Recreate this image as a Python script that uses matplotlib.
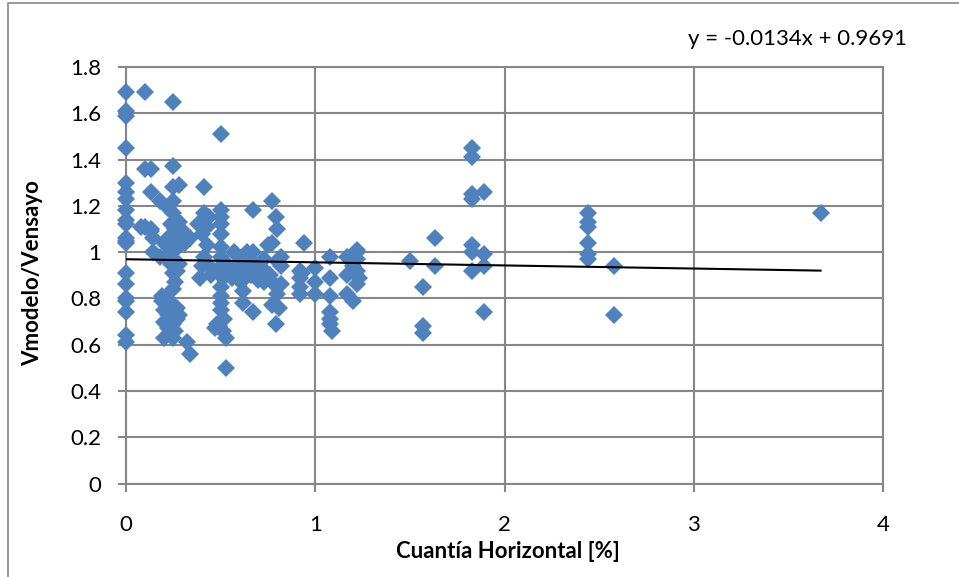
import matplotlib
matplotlib.use("Agg")
import matplotlib.pyplot as plt
from matplotlib.ticker import FuncFormatter, MultipleLocator
from matplotlib.patches import Rectangle

# puntos, agrupados por zona de cuantia
x_cero = [0.0] * 20
y_cero = [1.69, 1.61, 1.59, 1.45, 1.30, 1.26, 1.23, 1.18, 1.14, 1.12,
          1.06, 1.05, 1.04, 0.91, 0.86, 0.80, 0.79, 0.74, 0.64, 0.61]

x_bajo = [0.10, 0.10, 0.13, 0.13, 0.08, 0.13, 0.13, 0.14, 0.14, 0.10,
          0.18, 0.18, 0.19, 0.19, 0.20, 0.20, 0.20, 0.20, 0.21, 0.21,
          0.22, 0.22, 0.22, 0.22, 0.22]
y_bajo = [1.69, 1.36, 1.36, 1.26, 1.11, 1.10, 1.09, 1.06, 1.00, 1.11,
          1.22, 0.98, 0.79, 0.81, 0.75, 0.70, 0.63, 1.04, 0.80, 0.69,
          1.19, 1.06, 0.97, 0.73, 0.67]

x_025 = [0.25, 0.25, 0.25, 0.28, 0.25, 0.25, 0.24, 0.26, 0.27, 0.25,
         0.26, 0.27, 0.25, 0.26, 0.25, 0.27, 0.26, 0.25, 0.26, 0.25,
         0.28, 0.28, 0.28, 0.24, 0.24, 0.27, 0.28, 0.25, 0.24, 0.27,
         0.32, 0.34, 0.34, 0.30, 0.31]
y_025 = [1.65, 1.37, 1.28, 1.29, 1.22, 1.17, 1.12, 1.10, 1.08, 1.03,
         1.01, 0.95, 0.91, 0.87, 0.84, 0.76, 0.72, 0.69, 0.66, 0.63,
         1.06, 0.95, 1.13, 0.95, 0.78, 0.71, 0.73, 1.05, 1.00, 0.92,
         0.61, 0.56, 1.06, 1.09, 1.04]

x_045 = [0.40, 0.41, 0.41, 0.43, 0.41, 0.40, 0.44, 0.39, 0.45, 0.43,
         0.38, 0.44,
         0.50, 0.50, 0.50, 0.50, 0.50, 0.50, 0.50, 0.50, 0.51, 0.50,
         0.50, 0.50, 0.50, 0.48, 0.49, 0.51, 0.53, 0.53, 0.52, 0.47,
         0.52, 0.53, 0.49]
y_045 = [1.08, 1.28, 1.17, 1.11, 0.98, 0.94, 0.94, 0.89, 0.90, 1.03,
         1.12, 1.15,
         1.51, 1.18, 1.15, 1.12, 1.08, 1.02, 0.98, 0.94, 0.89, 0.85,
         0.81, 0.78, 0.75, 0.69, 0.68, 0.66, 0.63, 0.50, 0.96, 0.67,
         0.71, 0.92, 0.92]

x_065 = [0.57, 0.59, 0.57, 0.56, 0.60, 0.62, 0.62, 0.62, 0.64, 0.61,
         0.58, 0.63,
         0.67, 0.67, 0.67, 0.70, 0.68, 0.66, 0.73, 0.73, 0.72, 0.70,
         0.77, 0.79, 0.80, 0.77, 0.82, 0.82, 0.80, 0.77, 0.81, 0.79,
         0.76, 0.78, 0.82, 0.80, 0.75]
y_065 = [1.00, 0.95, 0.93, 0.89, 0.91, 0.97, 0.83, 0.78, 1.00, 0.87,
         0.99, 0.92,
         1.18, 1.00, 0.74, 0.92, 0.95, 0.90, 0.97, 0.87, 0.93, 0.88,
         1.22, 1.15, 1.10, 1.04, 0.98, 0.94, 0.82, 0.77, 0.76, 0.69,
         0.90, 0.86, 0.86, 0.96, 1.03]

x_uno = [0.94, 0.92, 0.92, 0.92, 0.92, 1.00, 1.00, 1.00, 0.93,
         1.08, 1.08, 1.08, 1.08, 1.08, 1.08, 1.09,
         1.17, 1.22, 1.22, 1.22, 1.23, 1.22, 1.17, 1.17, 1.20, 1.22, 1.20]
y_uno = [1.04, 0.92, 0.89, 0.85, 0.82, 0.93, 0.87, 0.82, 0.91,
         0.98, 0.89, 0.81, 0.74, 0.71, 0.69, 0.66,
         0.98, 1.01, 0.97, 0.92, 0.89, 0.86, 0.90, 0.82, 0.79, 1.00, 0.94]

x_alto = [1.50, 1.57, 1.57, 1.57, 1.63, 1.63, 1.83, 1.83, 1.83, 1.83,
          1.83, 1.83, 1.83, 1.89, 1.89, 1.89, 1.89, 2.44, 2.44, 2.44,
          2.44, 2.44, 2.44, 2.58, 2.58, 3.67]
y_alto = [0.96, 0.85, 0.68, 0.65, 1.06, 0.94, 1.45, 1.41, 1.25, 1.23,
          1.03, 1.00, 0.92, 1.26, 0.99, 0.94, 0.74, 1.17, 1.13, 1.11,
          1.04, 0.99, 0.97, 0.94, 0.73, 1.17]

x_all = x_cero + x_bajo + x_025 + x_045 + x_065 + x_uno + x_alto
y_all = y_cero + y_bajo + y_025 + y_045 + y_065 + y_uno + y_alto

# linea de tendencia (ecuacion del grafico)
pendiente = -0.0134
intercepto = 0.9691
x_tend = [0.0, max(x_all)]
y_tend = [intercepto + pendiente * v for v in x_tend]

gris = "#878787"
azul = "#4F81BD"
plt.rcParams["font.family"] = ["Lato", "DejaVu Sans"]

fig = plt.figure(figsize=(9.59, 5.77), dpi=100)
ax = fig.add_axes([0.1314, 0.162, 0.7894, 0.722])

ax.plot(x_all, y_all, linestyle="none", marker="D", markersize=9.2,
        color=azul, markeredgewidth=0, zorder=3, clip_on=False)
ax.plot(x_tend, y_tend, color="black", linewidth=1.5, zorder=4)

ax.set_xlim(0, 4)
ax.set_ylim(0, 1.8)
ax.xaxis.set_major_locator(MultipleLocator(1))
ax.yaxis.set_major_locator(MultipleLocator(0.2))
fmt = FuncFormatter(lambda v, p: f"{round(v, 1):g}")
ax.xaxis.set_major_formatter(fmt)
ax.yaxis.set_major_formatter(fmt)
ax.grid(True, color=gris, linewidth=1.5)
ax.set_axisbelow(True)
for s in ax.spines.values():
    s.set_color(gris)
    s.set_linewidth(1.5)
ax.tick_params(direction="out", length=6, width=1.5, color=gris,
               labelsize=16)
ax.tick_params(axis="y", pad=12)
ax.tick_params(axis="x", pad=17)

ax.set_xlabel("Cuantía Horizontal [%]", fontsize=16, fontweight="bold", va="center")
ax.set_ylabel("Vmodelo/Vensayo", fontsize=16, fontweight="bold", va="center")
ax.xaxis.set_label_coords(0.505, -0.164)
ax.yaxis.set_label_coords(-0.123, 0.505)

fig.text(0.717, 0.933, f"y = {pendiente}x + {intercepto}", fontsize=16,
         ha="left", va="center")

# borde del area del grafico
fig.patches.append(Rectangle((8 / 959, -0.05), 1.0, 1 - 3 / 577 + 0.05,
                             transform=fig.transFigure, fill=False,
                             edgecolor=gris, linewidth=1.2))

fig.savefig("out.png", dpi=100)
